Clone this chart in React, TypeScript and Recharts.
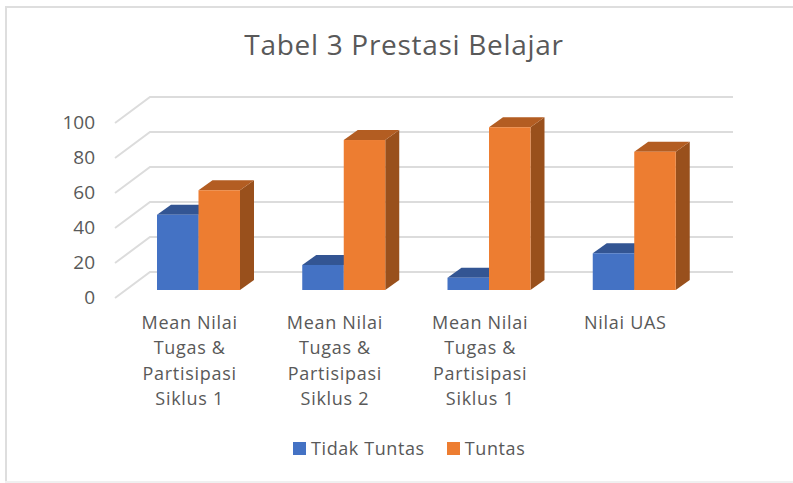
import { Bar, BarChart, CartesianGrid, Legend, XAxis, YAxis } from 'recharts'

const categories = [
  'Mean Nilai Tugas & Partisipasi Siklus 1',
  'Mean Nilai Tugas & Partisipasi Siklus 2',
  'Mean Nilai Tugas & Partisipasi Siklus 1',
  'Nilai UAS',
]
const tidakTuntas = [43, 14.3, 7, 21]
const tuntas = [57, 85.7, 93, 79]
const yTicks = [0, 20, 40, 60, 80, 100]

const categoryLines: Record<string, string[]> = {
  'Mean Nilai Tugas & Partisipasi Siklus 1': ['Mean Nilai', 'Tugas &', 'Partisipasi', 'Siklus 1'],
  'Mean Nilai Tugas & Partisipasi Siklus 2': ['Mean Nilai', 'Tugas &', 'Partisipasi', 'Siklus 2'],
  'Nilai UAS': ['Nilai UAS'],
}

const data = categories.map((name, i) => ({
  id: i,
  name,
  tidakTuntas: tidakTuntas[i],
  tuntas: tuntas[i],
}))

const FONT = '"Open Sans", sans-serif'
const TEXT = '#595959'

// fake 3D: extrusion of the bars, and the back wall offset from the front plane
const DEPTH_X = 14
const DEPTH_Y = 10

function Bar3D({ x, y, width, height, fill, topFill, sideFill }: any) {
  const r = x + width
  const b = y + height
  return (
    <g>
      <polygon
        points={`${r},${y} ${r + DEPTH_X},${y - DEPTH_Y} ${r + DEPTH_X},${b - DEPTH_Y} ${r},${b}`}
        fill={sideFill}
      />
      <polygon
        points={`${x},${y} ${x + DEPTH_X},${y - DEPTH_Y} ${r + DEPTH_X},${y - DEPTH_Y} ${r},${y}`}
        fill={topFill}
      />
      <rect x={x} y={y} width={width} height={height} fill={fill} />
    </g>
  )
}

// each grid line is drawn on the back wall, with its diagonal on the side wall
function WallLine({ x1, x2, y1 }: any) {
  const backY = y1 - 18
  const backX = x1 + 24
  return (
    <path
      d={`M${x1 - 11},${y1 + 8} L${backX},${backY} L${x2 + 26},${backY}`}
      fill="none"
      stroke="#dcdcdc"
      strokeWidth={2}
    />
  )
}

function CategoryTick({ x, y, payload }: any) {
  const lines = categoryLines[payload.value] ?? [payload.value]
  return (
    <text
      x={x - 9}
      y={y}
      textAnchor="middle"
      fill={TEXT}
      fontSize={18}
      letterSpacing={0.7}
      fontFamily={FONT}
    >
      {lines.map((line, i) => (
        <tspan key={i} x={x - 9} y={329 + i * 25.3}>
          {line}
        </tspan>
      ))}
    </text>
  )
}

function ValueTick({ x, y, payload }: any) {
  return (
    <text x={x} y={y + 14} textAnchor="end" fill={TEXT} fontSize={19} fontFamily={FONT}>
      {payload.value}
    </text>
  )
}

export default function App() {
  return (
    <div
      style={{
        position: 'absolute',
        left: 0,
        top: 0,
        width: 793,
        height: 483,
        background: '#fff',
        overflow: 'hidden',
      }}
    >
      <div
        style={{
          position: 'absolute',
          left: 5,
          top: 6,
          width: 800,
          height: 2,
          background: '#dedede',
        }}
      />
      <div
        style={{
          position: 'absolute',
          left: 5,
          top: 6,
          width: 2,
          height: 475,
          background: '#dedede',
        }}
      />
      <div
        style={{
          position: 'absolute',
          left: 5,
          top: 481,
          width: 800,
          height: 2,
          background: '#f0f0f0',
        }}
      />
      <div
        style={{
          position: 'absolute',
          left: 0,
          width: 808,
          top: 25,
          textAlign: 'center',
          fontFamily: FONT,
          fontSize: 28,
          letterSpacing: 0.7,
          color: TEXT,
          whiteSpace: 'nowrap',
        }}
      >
        Tabel 3 Prestasi Belajar
      </div>
      <BarChart
        width={793}
        height={483}
        data={data}
        barSize={41.5}
        barGap={0}
        margin={{ top: 115, right: 86, bottom: 73, left: 66 }}
        style={{ position: 'absolute', left: 0, top: 0 }}
      >
        <CartesianGrid vertical={false} horizontal={(props: any) => <WallLine key={props.key} {...props} />} />
        <XAxis
          dataKey="id"
          tickFormatter={(i: number) => categories[i]}
          height={120}
          axisLine={false}
          tickLine={false}
          interval={0}
          tick={(props: any) => (
            <CategoryTick {...props} payload={{ value: categories[props.payload.value] }} />
          )}
        />
        <YAxis
          domain={[0, 100]}
          ticks={yTicks}
          width={60}
          axisLine={false}
          tickLine={false}
          tick={(props: any) => <ValueTick {...props} x={95} />}
        />
        <Legend
          verticalAlign="bottom"
          content={() => (
            <div
              style={{
                position: 'absolute',
                left: 293,
                top: 436,
                display: 'flex',
                alignItems: 'center',
                fontFamily: FONT,
                fontSize: 18,
                letterSpacing: 0.6,
                color: TEXT,
                whiteSpace: 'nowrap',
              }}
            >
              <span style={{ width: 13, height: 13, background: '#4472c4', marginRight: 5 }} />
              <span style={{ marginRight: 22 }}>Tidak Tuntas</span>
              <span style={{ width: 13, height: 13, background: '#ed7d31', marginRight: 5 }} />
              <span>Tuntas</span>
            </div>
          )}
          wrapperStyle={{ position: 'absolute', left: 0, top: 0, width: 0, height: 0 }}
        />
        <Bar
          dataKey="tidakTuntas"
          fill="#4472c4"
          isAnimationActive={false}
          shape={(props: any) => <Bar3D {...props} topFill="#335593" sideFill="#2f5597" />}
        />
        <Bar
          dataKey="tuntas"
          fill="#ed7d31"
          isAnimationActive={false}
          shape={(props: any) => <Bar3D {...props} topFill="#b35d22" sideFill="#99501c" />}
        />
      </BarChart>
    </div>
  )
}
